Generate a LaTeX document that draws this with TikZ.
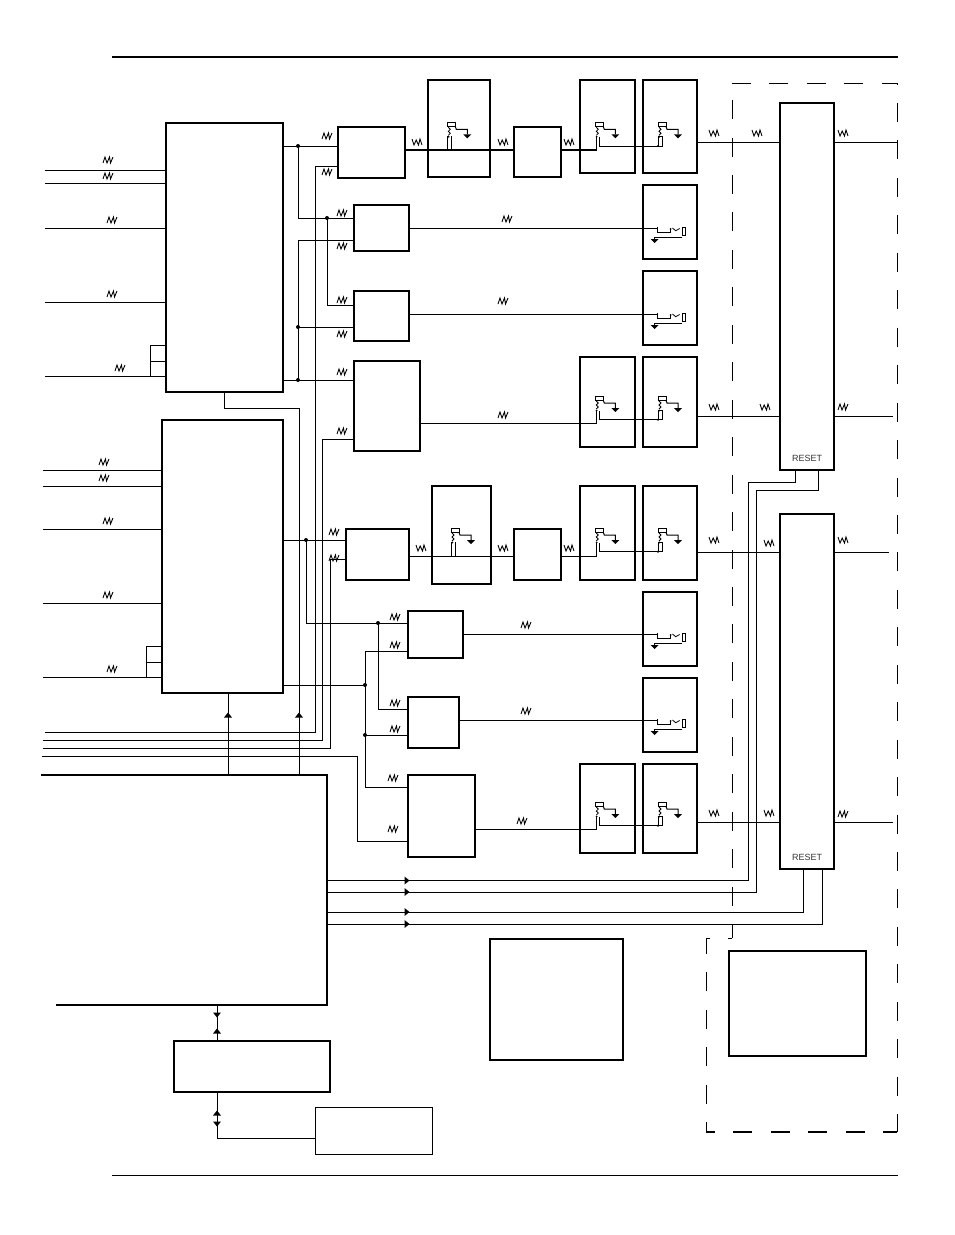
\documentclass[tikz,border=0pt]{standalone}
\usepackage{fontspec}
\setsansfont{Liberation Sans}
\newcommand{\jackhead}{
  \draw[line width=0.9pt] (0,0) rectangle (8,4.4);
  \draw[line width=1pt] (8,4.4) -- (9,7) -- (20,7) -- (20,12);
  \fill (16,12) -- (24,12) -- (20,16) -- cycle;
  \draw[line width=0.8pt] (1,5) -- (3,7) -- (1,9) -- (3,11) -- (1,13);
  \fill (1.3,14.5) circle (1);
}
\tikzset{
  blockbox/.style={draw,line width=2pt,inner sep=0pt,outer sep=0pt},
  thinbox/.style={draw,line width=1pt,inner sep=0pt,outer sep=0pt},
  sig/.style={line width=1pt},
  cardline/.style={line width=1pt,dash pattern=on 19pt off 18.45pt},
  joint/.style={circle,fill,inner sep=0pt,minimum size=4pt},
  jackleft/.pic={\jackhead
    \draw[line width=0.9pt] (0,14) -- (0,27.7) (4.4,14) -- (4.4,27.7);},
  jackmid/.pic={\jackhead
    \draw[line width=1pt] (1.3,27.7) -- (1.3,14.5) (3.8,14.5) -- (3.8,23.7) -- (62.7,23.7);},
  jackright/.pic={\jackhead
    \draw[line width=0.9pt] (0,14.5) -- (0,23.7) -- (4,23.7) -- (4,14.5) -- cycle;
    \fill (0,23.7) circle (1.1);},
  jackflat/.pic={
    \draw[line width=0.9pt] (0,-0.7) -- (0,4.7) -- (13.7,4.7) -- (13.7,1);
    \fill (13.7,1) circle (1);
    \draw[line width=0.8pt] (15.5,0) -- (18.7,2.7) -- (22.7,0.5);
    \draw[line width=0.9pt] (25,-0.7) rectangle (28.7,7.7);
    \draw[line width=1pt] (25.3,9.3) -- (-2.3,9.3) -- (-2.3,11);
    \fill (-6.3,11) -- (1.7,11) -- (-2.3,15) -- cycle;},
  zigin/.pic={\draw[line width=0.9pt] (-5,3) -- (-3,-3) -- (-1,3) -- (1.5,-3) -- (2.5,3) -- (5,-3);},
  zigout/.pic={\draw[line width=0.9pt] (-5,-3) -- (-3,3) -- (-0.8,-2) -- (1.5,3) -- (3,-3) -- (5,3);},
  tipmark/.pic={\fill (-2.5,-4) -- (2.5,0) -- (-2.5,4) -- cycle;}
}
\begin{document}
\begin{tikzpicture}[x=1pt,y=-1pt]
\useasboundingbox (0,0) rectangle (954,1235);
% rules
\coordinate (ruleL) at (112,0);
\coordinate (ruleR) at (898,0);
\draw[line width=2pt] (ruleL |- 0,57) -- (ruleR |- 0,57);
\draw[line width=1pt] (ruleL |- 0,1175) -- (ruleR |- 0,1175);
% dashed card outline
\coordinate (cardA) at (732,83);
\coordinate (cardB) at (897,83);
\coordinate (cardC) at (897,1132);
\coordinate (cardD) at (706,1132);
\coordinate (cardE) at (706,938);
\coordinate (cardF) at (732,938);
\draw[cardline] (cardA) -- (cardB);
\draw[cardline,dash phase=17.45pt] (cardB) -- (cardC);
\draw[cardline,dash phase=5pt,line width=1.6pt] (cardC) -- (cardD);
\draw[cardline,dash phase=9pt] (cardD) -- (cardE);
\draw[cardline,dash phase=15pt] (cardE) -- (cardF);
\draw[cardline,dash phase=5pt] (cardF) -- (cardA);
% big blocks
\node[blockbox,minimum width=117pt,minimum height=269pt] (mixA) at (224.5,257.5) {};
\node[blockbox,minimum width=121pt,minimum height=273pt] (mixB) at (222.5,556.5) {};
\coordinate (ctlNW) at (41,775);
\coordinate (ctlNE) at (327,775);
\coordinate (ctlSE) at (327,1005);
\coordinate (ctlSW) at (56,1005);
\draw[line width=2.4pt] (ctlNW) -- (ctlNE) -- (ctlSE) -- (ctlSW);
\node[blockbox,minimum width=156pt,minimum height=51pt] (ifc) at (252,1066.5) {};
\node[thinbox,minimum width=117pt,minimum height=47pt] (mem) at (373.5,1130.5) {};
\node[blockbox,minimum width=133pt,minimum height=121pt] (psuA) at (556.5,999.5) {};
\node[blockbox,line width=1.6pt,minimum width=137pt,minimum height=105pt] (psuB) at (797.5,1003.5) {};
\node[blockbox,minimum width=54pt,minimum height=367pt] (outA) at (807,286.5) {};
\node[blockbox,minimum width=54pt,minimum height=355pt] (outB) at (807,691.5) {};
\node[font=\sffamily\fontsize{9}{9}\selectfont,text=black!80,inner sep=0pt] (rstA) at (807,458) {RESET};
\node[font=\sffamily\fontsize{9}{9}\selectfont,text=black!80,inner sep=0pt] (rstB) at (807,857.5) {RESET};
% converters
\node[blockbox,minimum width=67pt,minimum height=51pt] (u1) at (371.5,152.5) {};
\node[blockbox,minimum width=47pt,minimum height=50pt] (u2) at (537.5,152) {};
\node[blockbox,minimum width=55pt,minimum height=46pt] (u3) at (381.5,228) {};
\node[blockbox,minimum width=55pt,minimum height=50pt] (u4) at (381.5,316) {};
\node[blockbox,minimum width=66pt,minimum height=90pt] (u5) at (387,406) {};
\node[blockbox,minimum width=63pt,minimum height=51pt] (u6) at (377.5,554.5) {};
\node[blockbox,minimum width=47pt,minimum height=51pt] (u7) at (537.5,554.5) {};
\node[blockbox,minimum width=55pt,minimum height=47pt] (u8) at (435.5,634.5) {};
\node[blockbox,minimum width=51pt,minimum height=51pt] (u9) at (433.5,722.5) {};
\node[blockbox,minimum width=67pt,minimum height=82pt] (u10) at (441.5,816) {};
% jack boxes
\node[blockbox,minimum width=62pt,minimum height=97pt] (j1) at (459,128.5) {};
\node[blockbox,minimum width=55pt,minimum height=93pt] (j2) at (607.5,126.5) {};
\node[blockbox,minimum width=54pt,minimum height=93pt] (j3) at (670,126.5) {};
\node[blockbox,minimum width=54pt,minimum height=74pt] (j4) at (670,222) {};
\node[blockbox,minimum width=54pt,minimum height=74pt] (j5) at (670,308) {};
\node[blockbox,minimum width=55pt,minimum height=90pt] (j6) at (607.5,402) {};
\node[blockbox,minimum width=54pt,minimum height=90pt] (j7) at (670,402) {};
\node[blockbox,minimum width=59pt,minimum height=98pt] (j8) at (461.5,535) {};
\node[blockbox,minimum width=55pt,minimum height=94pt] (j9) at (607.5,533) {};
\node[blockbox,minimum width=54pt,minimum height=94pt] (j10) at (670,533) {};
\node[blockbox,minimum width=54pt,minimum height=74pt] (j11) at (670,629) {};
\node[blockbox,minimum width=54pt,minimum height=74pt] (j12) at (670,715) {};
\node[blockbox,minimum width=55pt,minimum height=89pt] (j13) at (607.5,808.5) {};
\node[blockbox,minimum width=54pt,minimum height=89pt] (j14) at (670,808.5) {};
% jack symbols
\pic at (447.3,122.3) {jackleft};
\pic at (451,528) {jackleft};
\foreach \yy in {122.3,396,528,802} {
  \pic at (595.3,\yy) {jackmid};
  \pic at (658,\yy) {jackright};
}
\foreach \xx/\yy in {657/228,657/314,657/634,657/720} \pic at (\xx,\yy) {jackflat};
% inputs
\coordinate (inA) at (45,0);
\coordinate (inB) at (43,0);
\coordinate (loopA) at (150,0);
\coordinate (loopB) at (146,0);
\foreach \yy in {170,183,228,302,376.5} \draw[sig] (inA |- 0,\yy) -- (mixA.west |- 0,\yy);
\foreach \yy in {470,486,529,603,677} \draw[sig] (inB |- 0,\yy) -- (mixB.west |- 0,\yy);
\draw[sig] (mixA.west |- 0,345) -- (loopA |- 0,345) -- (loopA |- 0,376.5);
\draw[sig] (loopA |- 0,361) -- (mixA.west |- 0,361);
\draw[sig] (mixB.west |- 0,646) -- (loopB |- 0,646) -- (loopB |- 0,677);
\draw[sig] (loopB |- 0,662) -- (mixB.west |- 0,662);
% first mixer outputs
\node[joint] (a1) at (298,146) {};
\node[joint] (a2) at (327,218) {};
\node[joint] (a3) at (298,327) {};
\node[joint] (a4) at (298,380) {};
\draw[sig] (mixA.east |- a1) -- (u1.west |- a1);
\draw[sig] (a1.center) -- (a1.center |- a2) -- (u3.west |- a2);
\draw[sig] (a2.center) -- (a2.center |- 0,305) -- (u4.west |- 0,305);
\draw[sig] (u3.west |- 0,240) -- (a4.center |- 0,240) -- (a4.center);
\draw[sig] (a3.center) -- (u4.west |- a3);
\draw[sig] (mixA.east |- a4) -- (u5.west |- a4);
\coordinate (busA) at (315,0);
\coordinate (busB) at (322,0);
\coordinate (busC) at (330,0);
\coordinate (busD) at (357,0);
\coordinate (feedX) at (299,0);
\draw[sig] (u1.west |- 0,166) -- (busA |- 0,166) -- (busA |- 0,732) -- (inA |- 0,732);
\draw[sig] (u5.west |- 0,439) -- (busB |- 0,439) -- (busB |- 0,740) -- (inB |- 0,740);
\draw[sig] (u6.west |- 0,559) -- (busC |- 0,559) -- (busC |- 0,748) -- (inB |- 0,748);
\draw[sig] (u10.west |- 0,841) -- (busD |- 0,841) -- (busD |- 0,756) -- (42,756);
\draw[sig] (mixA.south) -- (mixA.south |- 0,408) -- (feedX |- 0,408) -- (feedX |- ctlNE);
\draw[sig] (mixB.south -| 228,0) -- (228,0 |- ctlNE);
% second mixer outputs
\node[joint] (b1) at (306,540) {};
\node[joint] (b2) at (378,623) {};
\node[joint] (b3) at (365,685) {};
\node[joint] (b4) at (365,735) {};
\draw[sig] (mixB.east |- b1) -- (u6.west |- b1);
\draw[sig] (b1.center) -- (b1.center |- b2) -- (u8.west |- b2);
\draw[sig] (b2.center) -- (b2.center |- 0,709) -- (u9.west |- 0,709);
\draw[sig] (u8.west |- 0,651) -- (b3.center |- 0,651) -- (b3.center |- 0,787) -- (u10.west |- 0,787);
\draw[sig] (mixB.east |- b3) -- (b3.center);
\draw[sig] (b4.center) -- (u9.west |- b4);
% signal chains
\draw[line width=1.2pt] (u1.east |- 0,150) -- (u2.west |- 0,150);
\draw[line width=1.2pt] (u2.east |- 0,150) -- (596.6,150);
\draw[sig] (u6.east |- 0,556) -- (u7.west |- 0,556);
\draw[sig] (u7.east |- 0,556) -- (596.6,556);
\draw[sig] (u5.east |- 0,423.7) -- (596.6,423.7);
\draw[sig] (u10.east |- 0,829.7) -- (596.6,829.7);
\draw[sig] (u3.east |- 0,228) -- (657,228);
\draw[sig] (u4.east |- 0,314) -- (657,314);
\draw[sig] (u8.east |- 0,634) -- (657,634);
\draw[sig] (u9.east |- 0,720) -- (657,720);
% to output blocks
\coordinate (outEndA) at (898,0);
\coordinate (outEndB) at (893,0);
\coordinate (outEndC) at (889,0);
\draw[sig] (j3.east |- 0,142) -- (outA.west |- 0,142);
\draw[sig] (j7.east |- 0,416) -- (outA.west |- 0,416);
\draw[sig] (j10.east |- 0,552) -- (outB.west |- 0,552);
\draw[sig] (j14.east |- 0,822) -- (outB.west |- 0,822);
\draw[sig] (outA.east |- 0,142) -- (outEndA |- 0,142);
\draw[sig] (outA.east |- 0,416) -- (outEndB |- 0,416);
\draw[sig] (outB.east |- 0,552) -- (outEndC |- 0,552);
\draw[sig] (outB.east |- 0,822) -- (outEndB |- 0,822);
% reset lines
\draw[sig] (ctlNE |- 0,880.5) -- (748.5,880.5) -- (748.5,482) -- (795,482) -- (795,0 |- outA.south);
\draw[sig] (ctlNE |- 0,892) -- (756,892) -- (756,490) -- (818.5,490) -- (818.5,0 |- outA.south);
\draw[sig] (ctlNE |- 0,912) -- (803,912) -- (803,0 |- outB.south);
\draw[sig] (ctlNE |- 0,924) -- (822.5,924) -- (822.5,0 |- outB.south);
\foreach \yy in {880.5,892,912,924} \pic at (407,\yy) {tipmark};
\pic[rotate=90] at (228,715) {tipmark};
\pic[rotate=90] at (299,715) {tipmark};
% control bus
\coordinate (busE) at (217,0);
\draw[sig] (busE |- ctlSE) -- (busE |- ifc.north);
\draw[sig] (busE |- ifc.south) -- (busE |- 0,1138) -- (mem.west |- 0,1138);
\pic[rotate=-90] at (217,1015) {tipmark};
\pic[rotate=90] at (217,1031) {tipmark};
\pic[rotate=90] at (217,1113) {tipmark};
\pic[rotate=-90] at (217,1124) {tipmark};
% resistor marks
\foreach \xx/\yy in {108/160,108/176,112/220,112/294,120/368,104/462,104/478,108/521,108/595,112/669,
  327/136,327/172,342/213,342/246,342/300,342/334,342/372,342/431,334/532,334/558,
  395/617,395/645,395/703,395/729,393/778,393/829,507/219,503/301,503/415,526/625,526/711,522/821,
  843/407,843/814}
  \pic at (\xx,\yy) {zigin};
\foreach \xx/\yy in {417/142,503/142,569/142,714/133,757/133,843/133,714/407,765/407,
  421/548,503/548,569/548,714/540,769/543,843/540,714/813,769/813}
  \pic at (\xx,\yy) {zigout};
\end{tikzpicture}
\end{document}
